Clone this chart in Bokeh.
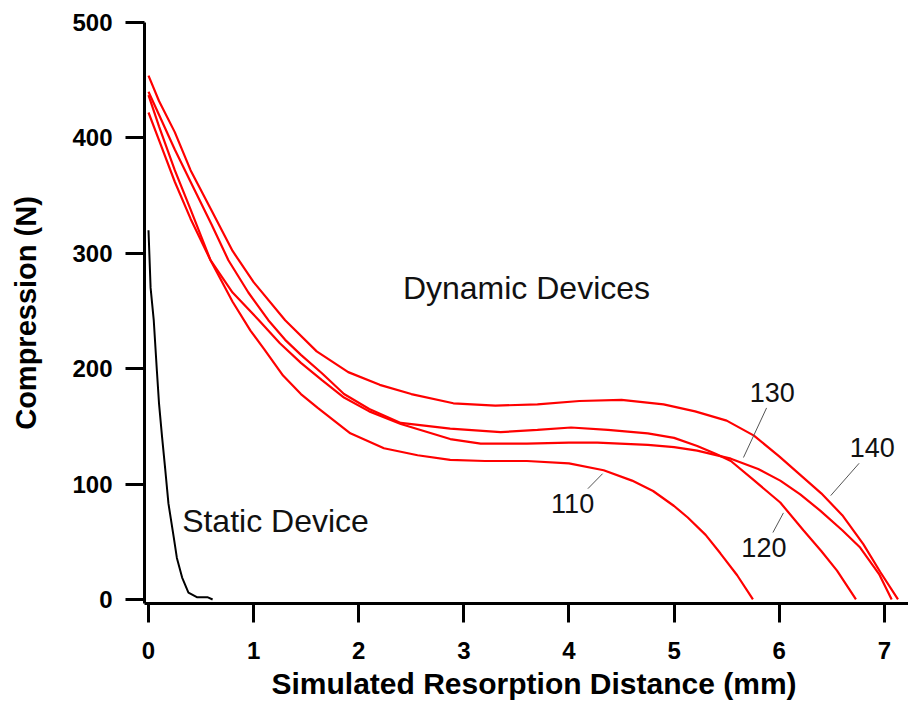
from bokeh.plotting import figure
from bokeh.models import Range1d, FixedTicker, Title
from bokeh.core.properties import value
from bokeh.embed import file_html
from bokeh.resources import INLINE

# ---- data ----
static_x = [0.0, 0.02, 0.05, 0.08, 0.10, 0.13, 0.16, 0.19, 0.24, 0.27, 0.32, 0.38, 0.46, 0.56, 0.61]
static_y = [320, 270, 242, 198, 170, 140, 112, 83, 54, 36, 19, 6, 2, 2, 0]

d110_x = [0, 0.1, 0.25, 0.4, 0.59, 0.8, 0.97, 1.1, 1.28, 1.45, 1.61, 1.92, 2.24, 2.56, 2.87, 3.2, 3.6, 4.0,
          4.33, 4.6, 4.8, 5.0, 5.13, 5.3, 5.44, 5.6, 5.75]
d110_y = [422, 398, 362, 330, 294, 258, 233, 217, 194, 178, 166, 144, 131, 125, 121, 120, 120, 118,
          112, 103, 94, 81, 71, 56, 40, 21, 0]

d120_x = [0, 0.1, 0.25, 0.4, 0.6, 0.76, 0.95, 1.14, 1.3, 1.45, 1.65, 1.86, 2.1, 2.4, 2.87, 3.35, 3.7, 4.02,
          4.37, 4.75, 5.0, 5.22, 5.4, 5.54, 5.75, 6.01, 6.23, 6.4, 6.55, 6.73]
d120_y = [440, 420, 390, 362, 325, 294, 266, 242, 225, 212, 196, 178, 165, 153, 148, 145, 147, 149,
          147, 144, 140, 133, 126, 120, 104, 84, 60, 42, 25, 0]

d130_x = [0, 0.1, 0.25, 0.4, 0.59, 0.8, 1.05, 1.25, 1.45, 1.65, 1.86, 2.1, 2.4, 2.87, 3.16, 3.6, 4.0, 4.27,
          4.75, 5.0, 5.22, 5.54, 5.8, 6.01, 6.2, 6.39, 6.6, 6.77, 6.95, 7.07]
d130_y = [437, 410, 372, 338, 294, 266, 242, 222, 205, 190, 175, 163, 152, 139, 135, 135, 136, 136,
          134, 132, 129, 122, 113, 103, 91, 77, 60, 45, 22, 0]

d140_x = [0, 0.1, 0.25, 0.4, 0.6, 0.8, 1.0, 1.3, 1.6, 1.9, 2.2, 2.5, 2.9, 3.3, 3.7, 4.1, 4.5, 4.9, 5.2,
          5.5, 5.76, 6.0, 6.2, 6.4, 6.6, 6.8, 6.96, 7.13]
d140_y = [454, 432, 405, 372, 337, 302, 275, 242, 215, 197, 186, 178, 170, 168, 169, 172, 173, 169, 163,
          155, 142, 124, 108, 92, 73, 48, 24, 0]

x_ticks = [0, 1, 2, 3, 4, 5, 6, 7]
y_ticks = [0, 100, 200, 300, 400, 500]

curve_labels = ["110", "120", "130", "140"]
label_x = [3.83, 5.64, 5.72, 6.67]
label_y = [82.8, 45, 179, 131.7]
leader_x0 = [4.18, 5.94, 5.88, 6.76]
leader_y0 = [96, 58, 166, 118]
leader_x1 = [4.32, 6.04, 5.66, 6.49]
leader_y1 = [109, 75, 123, 90]

# ---- figure ----
FONT = "Liberation Sans"
p = figure(width=908, height=703, x_range=Range1d(-0.038, 7.23), y_range=Range1d(-3.5, 500),
           output_backend="svg", toolbar_location=None,
           min_border_left=144, min_border_top=22, min_border_bottom=100, min_border_right=0)
p.outline_line_color = None
p.xgrid.visible = False
p.ygrid.visible = False
p.background_fill_color = "white"

for ax, ticks in ((p.xaxis[0], x_ticks), (p.yaxis[0], y_ticks)):
    ax.ticker = FixedTicker(ticks=ticks)
    ax.axis_line_width = 3
    ax.axis_line_color = "black"
    ax.major_tick_line_width = 3
    ax.major_tick_line_color = "black"
    ax.major_tick_out = 19
    ax.major_tick_in = 0
    ax.minor_tick_out = 0
    ax.minor_tick_in = 0
    ax.major_label_text_font = FONT
    ax.major_label_text_font_style = "bold"
    ax.major_label_text_font_size = "24px"
    ax.major_label_text_color = "black"
    ax.axis_label_text_font = FONT
    ax.axis_label_text_font_style = "bold"
    ax.axis_label_text_font_size = "29px"
    ax.axis_label_text_color = "black"

p.xaxis.major_label_standoff = 19
p.yaxis.major_label_standoff = 13
p.yaxis.axis_label = "Compression (N)"
p.yaxis.axis_label_standoff = 27

xt = Title(text="Simulated Resorption Distance (mm)", align="left", offset=127, standoff=6,
           vertical_align="bottom", text_font=FONT, text_font_style="bold",
           text_font_size="30px", text_color="black", text_line_height=1.0)
p.add_layout(xt, "below")

# ---- curves ----
p.line(static_x, static_y, line_color="black", line_width=2)
for xs, ys in ((d110_x, d110_y), (d120_x, d120_y), (d130_x, d130_y), (d140_x, d140_y)):
    p.line(xs, ys, line_color="#ff0000", line_width=2.2)

p.segment(leader_x0, leader_y0, leader_x1, leader_y1, line_color="#555555", line_width=1)

p.text(label_x, label_y, text=curve_labels, text_font=value(FONT), text_font_size="27px",
       text_align="left", text_baseline="middle", text_color="#111111")
p.text([2.42], [269.5], text=["Dynamic Devices"], text_font=value(FONT), text_font_size="32px",
       text_align="left", text_baseline="middle", text_color="#111111")
p.text([0.32], [68], text=["Static Device"], text_font=value(FONT), text_font_size="32px",
       text_align="left", text_baseline="middle", text_color="#111111")

open("out.html", "w").write(file_html(p, INLINE))
